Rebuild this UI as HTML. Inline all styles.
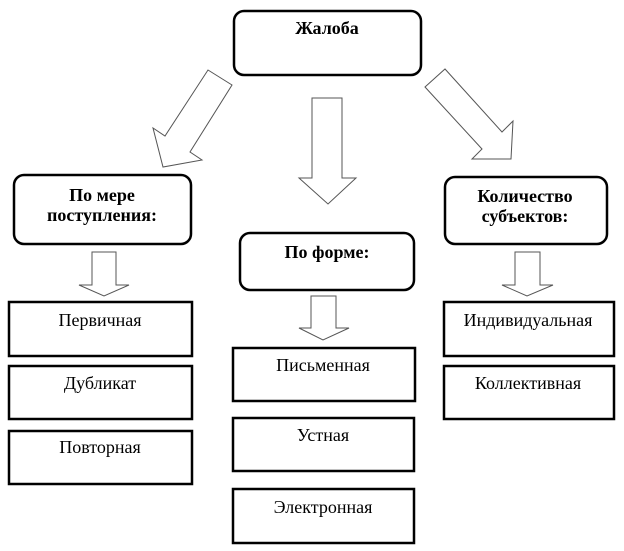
<!DOCTYPE html>
<html><head><meta charset="utf-8"><style>html,body{margin:0;padding:0;background:#fff;}svg{display:block}</style></head>
<body>
<svg width="624" height="551" viewBox="0 0 624 551" xmlns="http://www.w3.org/2000/svg" font-family="'Liberation Serif', serif" font-size="18" text-anchor="middle">
<g fill="none" stroke="#000" stroke-width="2.5">
<rect x="234" y="11" width="187" height="64" rx="10"/>
<rect x="14" y="175" width="177" height="69" rx="10"/>
<rect x="445" y="177" width="162" height="67" rx="10"/>
<rect x="240" y="233" width="174" height="57" rx="10"/>
<rect x="9" y="302" width="183" height="54"/>
<rect x="9" y="366" width="183" height="53"/>
<rect x="9" y="431" width="183" height="53"/>
<rect x="233" y="348" width="182" height="53"/>
<rect x="233" y="418" width="181" height="53"/>
<rect x="233" y="489" width="181" height="54"/>
<rect x="444" y="302" width="170" height="54"/>
<rect x="444" y="366" width="170" height="53"/>
</g>
<g fill="#fff" stroke="#555" stroke-width="1">
<polygon points="208,70 232,85 190,152 202,160 163,167 153,128 165,136"/>
<polygon points="425,87 445,69 502,132 513,121 511,159 472,159 482,149"/>
<polygon points="312,98 342,98 342,178 356,178 328,204 299,178 312,178"/>
<polygon points="92,252 116,252 116,285 129,285 104,296 79,285 92,285"/>
<polygon points="311,296 336,296 336,328 349,328 323,340 299,328 311,328"/>
<polygon points="515,252 540,252 540,285 553,285 527,296 502,285 515,285"/>
</g>
<g font-weight="bold">
<text x="327" y="34">Жалоба</text>
<text x="102" y="201">По мере</text>
<text x="102" y="221">поступления:</text>
<text x="525" y="202">Количество</text>
<text x="525" y="222">субъектов:</text>
<text x="327" y="258">По форме:</text>
</g>
<text x="100" y="326">Первичная</text>
<text x="100" y="389">Дубликат</text>
<text x="100" y="453">Повторная</text>
<text x="323" y="371">Письменная</text>
<text x="323" y="441">Устная</text>
<text x="323" y="513">Электронная</text>
<text x="528" y="326">Индивидуальная</text>
<text x="528" y="389">Коллективная</text>
</svg>
</body></html>
